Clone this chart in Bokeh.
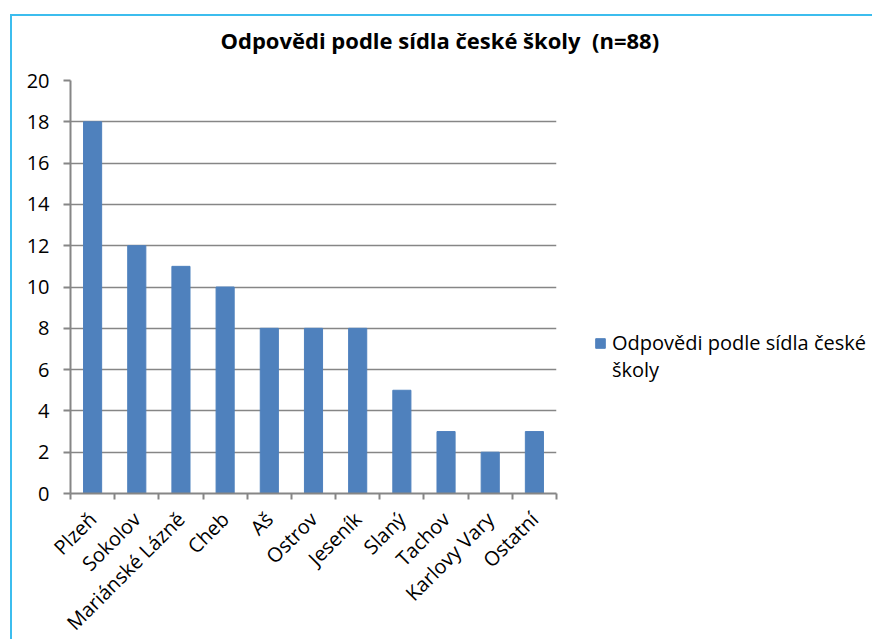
from math import pi

from bokeh.plotting import figure
from bokeh.models import (Range1d, LinearAxis, FixedTicker, Legend,
                          LegendItem, ColumnDataSource)
from bokeh.embed import file_html
from bokeh.resources import INLINE

# Data
schools = ["Plzeň", "Sokolov", "Mariánské Lázně", "Cheb", "Aš", "Ostrov",
           "Jeseník", "Slaný", "Tachov", "Karlovy Vary", "Ostatní"]
counts = [18, 12, 11, 10, 8, 8, 8, 5, 3, 2, 3]
y_ticks = [0, 2, 4, 6, 8, 10, 12, 14, 16, 18, 20]
title_text = "Odpovědi podle sídla české školy  (n=88)"
legend_line1 = "Odpovědi podle sídla české"
legend_line2 = "školy"

FONT = "Open Sans"
BAR = "#4F81BD"
GREY = "#868686"
FRAME = "#3CBDEE"

n = len(schools)
centers = [i + 0.5 for i in range(n)]
src = ColumnDataSource(data=dict(x=centers, count=counts, school=schools))

p = figure(frame_width=486, frame_height=413,
           output_backend="svg", toolbar_location=None,
           x_range=Range1d(0, n), y_range=Range1d(0, 20),
           x_axis_location=None,
           min_border_left=58, min_border_right=318,
           min_border_top=64, min_border_bottom=148,
           margin=(14, 0, 0, 10),
           styles={"border-top": f"2px solid {FRAME}",
                   "border-left": f"2px solid {FRAME}"})
p.outline_line_color = None
p.background_fill_color = "white"
p.border_fill_color = "white"

bars = p.vbar(x="x", top="count", width=0.41, source=src,
              fill_color=BAR, line_color=BAR)

# blank spacer axis between the title and the plot frame
spacer = LinearAxis(ticker=FixedTicker(ticks=[0]),
                    major_label_overrides={0: ""},
                    axis_line_color=None,
                    major_tick_line_color=None, minor_tick_line_color=None,
                    major_tick_out=20, major_tick_in=0,
                    major_label_text_font_size="1px", major_label_standoff=0)
p.add_layout(spacer, "above")

# title, centred over the whole chart box (keep the double space visible)
p.title.text = title_text.replace("  ", "\u00a0 ")
p.title.align = "left"
p.title.offset = 150
p.title.standoff = 12
p.title.text_font = FONT
p.title.text_font_size = "22px"
p.title.text_font_style = "bold"
p.title.text_color = "black"

# y axis
ya = p.yaxis[0]
ya.ticker = FixedTicker(ticks=y_ticks)
ya.axis_line_color = GREY
ya.axis_line_width = 2
ya.major_tick_line_color = GREY
ya.major_tick_line_width = 2
ya.major_tick_out = 7
ya.major_tick_in = 0
ya.minor_tick_line_color = None
ya.major_label_text_font = FONT
ya.major_label_text_font_size = "20px"
ya.major_label_text_color = "black"
ya.major_label_standoff = 14

p.xgrid.grid_line_color = None
p.ygrid.ticker = FixedTicker(ticks=y_ticks)
p.ygrid.grid_line_color = GREY
p.ygrid.grid_line_width = 1.5

# x axis: category boundary ticks
xb = LinearAxis(ticker=FixedTicker(ticks=list(range(n + 1))),
                major_label_overrides={i: "" for i in range(n + 1)})
xb.axis_line_color = GREY
xb.axis_line_width = 2
xb.major_tick_line_color = GREY
xb.major_tick_line_width = 2
xb.major_tick_out = 6
xb.major_tick_in = 0
xb.minor_tick_line_color = None
xb.major_label_text_font_size = "1px"
xb.major_label_standoff = 0
p.add_layout(xb, "below")

# x axis: category names
xl = LinearAxis(ticker=FixedTicker(ticks=centers),
                major_label_overrides={c: s for c, s in zip(centers, schools)})
xl.axis_line_color = None
xl.major_tick_line_color = None
xl.minor_tick_line_color = None
xl.major_tick_out = 0
xl.major_tick_in = 0
xl.major_label_orientation = pi / 4
xl.major_label_text_font = FONT
xl.major_label_text_font_size = "20px"
xl.major_label_text_color = "black"
xl.major_label_standoff = 16
p.add_layout(xl, "below")

# legend to the right of the plot frame; the series name wraps onto a
# second, glyph-less row
legend = Legend(items=[LegendItem(label=legend_line1, renderers=[bars]),
                       LegendItem(label=legend_line2, renderers=[])],
                location=(38, 110), padding=0, margin=0, spacing=0,
                label_standoff=6, glyph_width=12, glyph_height=12,
                label_height=26,
                label_text_font=FONT, label_text_font_size="20px",
                label_text_color="black", border_line_color=None,
                background_fill_alpha=0)
p.add_layout(legend, "right")

open("out.html", "w").write(file_html(p, INLINE))
